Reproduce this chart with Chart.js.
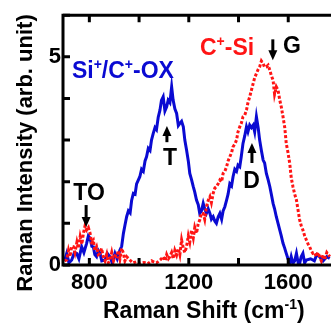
<!DOCTYPE html>
<html><head><meta charset="utf-8">
<script src="https://cdn.jsdelivr.net/npm/chart.js@4/dist/chart.umd.min.js"></script>
<style>html,body{margin:0;padding:0;background:#fff;overflow:hidden}#wrap{width:331px;height:324px;position:relative}</style>
</head><body><div id="wrap"><canvas id="c" width="331" height="324"></canvas></div>
<script>
// ---- data ----
const blueShift=[700,709,718,729,740,749,758,769,778,789,796,803,810,816,822,829,836,843,850,863,872,883,892,903,912,923,930,937,943,950,957,964,970,977,984,990,1003,1010,1017,1024,1030,1037,1044,1050,1057,1064,1070,1077,1084,1090,1097,1104,1111,1117,1124,1131,1137,1144,1151,1158,1164,1171,1178,1184,1191,1198,1204,1211,1218,1224,1231,1238,1244,1251,1258,1264,1271,1278,1285,1291,1298,1305,1311,1318,1325,1332,1338,1345,1352,1358,1365,1372,1378,1385,1392,1398,1405,1411,1418,1425,1432,1438,1445,1452,1459,1465,1472,1479,1485,1492,1499,1505,1512,1519,1526,1532,1539,1545,1552,1559,1566,1572,1579,1586,1592,1599,1606,1612,1619,1626,1633,1640,1646,1652,1659,1666,1673,1690,1705,1715,1726,1740,1755,1767];
const blueIntensity=[0.1,0.28,0.05,0.12,0.3,0.28,0.15,0.44,0.3,0.52,0.7,0.64,0.45,0.44,0.25,0.2,0.35,0.28,0.1,0.12,0.28,0.2,0.05,0.28,0.15,0.36,0.45,0.76,0.95,1.16,1.3,1.25,1.55,1.72,1.7,1.95,2.12,2.3,2.25,2.5,2.6,2.8,2.75,3.0,3.16,3.3,3.25,3.55,3.72,3.95,4.04,3.7,3.8,3.96,3.9,4.28,3.96,3.75,3.64,3.35,3.4,3.45,3.32,3.0,2.76,2.5,2.2,2.05,1.88,1.75,1.56,1.45,1.24,1.3,1.48,1.35,1.24,1.35,1.24,1.1,1.16,1.05,1.0,1.15,1.24,1.1,1.3,1.4,1.56,1.7,1.95,1.9,2.12,2.3,2.25,2.4,2.36,2.6,2.92,3.1,3.32,3.2,3.36,3.3,3.36,3.2,3.56,3.3,3.0,2.75,2.52,2.45,2.2,2.05,1.88,1.7,1.48,1.35,1.16,1.0,0.84,0.7,0.52,0.4,0.28,0.15,0.04,0.2,0.04,0.1,0.28,0.05,0.04,0.2,0.28,0.05,0.12,0.15,0.1,0.25,0.2,0.1,0.2,0.16];
const redShift=[700,709,716,722,729,736,742,750,756,763,770,776,783,789,796,803,809,816,822,829,836,843,849,856,863,870,876,883,890,897,903,910,917,923,930,937,943,950,963,975,990,1003,1020,1035,1050,1057,1070,1085,1097,1105,1111,1118,1124,1131,1138,1144,1151,1158,1164,1171,1178,1184,1191,1198,1204,1211,1218,1224,1231,1238,1244,1251,1258,1264,1271,1278,1285,1291,1298,1305,1311,1318,1325,1332,1338,1345,1352,1358,1365,1372,1378,1385,1392,1398,1405,1411,1418,1425,1432,1438,1445,1452,1459,1465,1472,1479,1485,1492,1499,1505,1512,1519,1526,1532,1539,1545,1552,1559,1566,1572,1579,1586,1592,1599,1606,1612,1619,1626,1633,1640,1646,1652,1659,1666,1673,1680,1686,1692,1699,1706,1713,1720,1726,1733,1740,1746,1755,1767];
const redIntensity=[0.1,0.12,0.35,0.2,0.45,0.44,0.3,0.55,0.4,0.68,0.5,0.76,0.95,0.84,0.9,0.76,0.55,0.6,0.35,0.44,0.25,0.28,0.4,0.2,0.1,0.25,0.05,0.12,0.3,0.1,0.22,0.2,0.35,0.15,0.4,0.28,0.1,0.2,0.12,0.05,0.08,0.04,0.06,0.03,0.1,0.08,0.05,0.12,0.2,0.1,0.25,0.15,0.2,0.3,0.15,0.35,0.24,0.4,0.25,0.6,0.4,0.3,0.44,0.7,0.55,0.84,0.65,0.9,0.76,1.0,1.08,1.25,1.24,1.1,1.4,1.55,1.64,1.5,1.72,1.85,1.88,1.95,2.04,2.0,2.2,2.25,2.36,2.5,2.6,2.7,2.84,2.9,3.0,3.2,3.32,3.4,3.56,3.6,3.72,3.9,4.04,4.2,4.36,4.5,4.6,4.7,4.76,4.9,4.84,4.75,4.76,4.8,4.68,4.55,4.44,4.1,4.28,4.2,3.96,3.8,3.56,3.3,2.92,2.7,2.44,2.1,1.88,1.7,1.56,1.3,1.08,0.95,0.84,0.7,0.6,0.5,0.44,0.35,0.28,0.3,0.2,0.3,0.2,0.1,0.25,0.12,0.3,0.2];
const xTickMarks=[800,1000,1200,1400,1600];
const xTickLabels=[800,1200,1600];
const yTickMarks=[0,1,2,3,4,5,6];
const yTickLabels=[0,5];
const seriesNames=['Si+/C+-OX','C+-Si'];

const FONT="'Liberation Sans', Arial, sans-serif";
const zip=(a,b)=>a.map((v,i)=>({x:v,y:b[i]}));

function rich(ctx,parts,x,y,size,color){
  let cx=x;
  ctx.fillStyle=color;ctx.textBaseline='alphabetic';ctx.textAlign='left';
  for(const p of parts){
    if(p.sup){ctx.font='bold '+Math.round(size*0.62)+'px '+FONT;ctx.fillText(p.t,cx,y-size*0.38);}
    else{ctx.font='bold '+size+'px '+FONT;ctx.fillText(p.t,cx,y);}
    cx+=ctx.measureText(p.t).width;
  }
}
function arrow(ctx,x,y0,y1){ // from y0 (tail) to y1 (tip)
  const dir=Math.sign(y1-y0);
  ctx.save();ctx.strokeStyle='#000';ctx.fillStyle='#000';ctx.lineWidth=3;
  ctx.beginPath();ctx.moveTo(x,y0);ctx.lineTo(x,y1-dir*7);ctx.stroke();
  ctx.beginPath();ctx.moveTo(x,y1);ctx.lineTo(x-4.5,y1-dir*10);ctx.lineTo(x+4.5,y1-dir*10);ctx.closePath();ctx.fill();
  ctx.restore();
}

const deco={id:'deco',afterDatasetsDraw(chart){
  const ctx=chart.ctx,a=chart.chartArea,xs=chart.scales.x,ys=chart.scales.y;
  ctx.save();
  ctx.strokeStyle='#000';ctx.lineWidth=3;ctx.lineCap='butt';
  ctx.beginPath();
  ctx.moveTo(a.left,a.top-1.5);ctx.lineTo(a.left,a.bottom+1.5);
  ctx.moveTo(a.left-1.5,a.bottom);ctx.lineTo(chart.width,a.bottom);
  ctx.moveTo(a.left-1.5,a.top);ctx.lineTo(chart.width,a.top);
  ctx.stroke();
  ctx.beginPath();
  for(const v of xTickMarks){const px=xs.getPixelForValue(v);
    ctx.moveTo(px,a.bottom);ctx.lineTo(px,a.bottom-7);
    ctx.moveTo(px,a.top);ctx.lineTo(px,a.top+7);}
  for(const v of yTickMarks){const py=ys.getPixelForValue(v);
    ctx.moveTo(a.left,py);ctx.lineTo(a.left+7,py);}
  ctx.stroke();
  // annotations
  const X=v=>xs.getPixelForValue(v),Y=v=>ys.getPixelForValue(v);
  rich(ctx,[{t:'Si'},{t:'+',sup:1},{t:'/C'},{t:'+',sup:1},{t:'-OX'}],X(730),Y(4.49),23,'#0a0ad2');
  rich(ctx,[{t:'C'},{t:'+',sup:1},{t:'-Si'}],X(1245),Y(5.04),23,'#ff1414');
  ctx.fillStyle='#000';ctx.font='bold 23px '+FONT;ctx.textBaseline='alphabetic';
  ctx.textAlign='left';ctx.fillText('G',X(1579),Y(5.09));
  ctx.textAlign='center';
  ctx.fillText('T',X(1124),Y(2.4));
  ctx.fillText('D',X(1452),Y(1.85));
  ctx.fillText('TO',X(799),Y(1.56));
  arrow(ctx,X(1538),Y(5.42),Y(4.92));
  arrow(ctx,X(1112),Y(2.95),Y(3.34));
  arrow(ctx,X(1454),Y(2.45),Y(2.93));
  arrow(ctx,X(787),Y(1.44),Y(0.91));
  // axis titles
  ctx.textAlign='left';
  rich(ctx,[{t:'Raman Shift (cm'},{t:'-1',sup:1},{t:')'}],103,318,23,'#000');
  ctx.translate(32,153);ctx.rotate(-Math.PI/2);
  ctx.font='bold 22px '+FONT;ctx.textAlign='center';ctx.fillStyle='#000';
  ctx.fillText('Raman Intensity (arb. unit)',0,0);
  ctx.restore();
}};

new Chart(document.getElementById('c'),{
  type:'line',
  data:{datasets:[
    {label:seriesNames[0],data:zip(blueShift,blueIntensity),borderColor:'#0a0ad2',borderWidth:3,pointRadius:0,tension:0,fill:false,order:2},
    {label:seriesNames[1],data:zip(redShift,redIntensity),borderColor:'#ff1414',borderWidth:3,borderDash:[3,2],pointRadius:0,tension:0,fill:false,order:1}
  ]},
  options:{
    responsive:false,animation:false,devicePixelRatio:1,
    layout:{padding:{left:0,top:15,right:0,bottom:0}},
    plugins:{legend:{display:false},tooltip:{enabled:false}},
    scales:{
      x:{type:'linear',min:694,max:1772,
        afterBuildTicks:s=>{s.ticks=xTickMarks.map(v=>({value:v}));},
        afterFit:s=>{s.height=59;},
        grid:{display:false,drawTicks:false},border:{display:false},
        ticks:{autoSkip:false,maxRotation:0,padding:5,color:'#000',font:{family:FONT,size:22,weight:'bold'},
          callback:v=>xTickLabels.includes(v)?String(v):''}},
      y:{type:'linear',min:0,max:6,
        afterBuildTicks:s=>{s.ticks=yTickMarks.map(v=>({value:v}));},
        afterFit:s=>{s.width=63;},
        grid:{display:false,drawTicks:false},border:{display:false},
        ticks:{padding:2,color:'#000',font:{family:FONT,size:22,weight:'bold'},
          callback:v=>yTickLabels.includes(v)?String(v):''}}
    }
  },
  plugins:[deco]
});
</script></body></html>
